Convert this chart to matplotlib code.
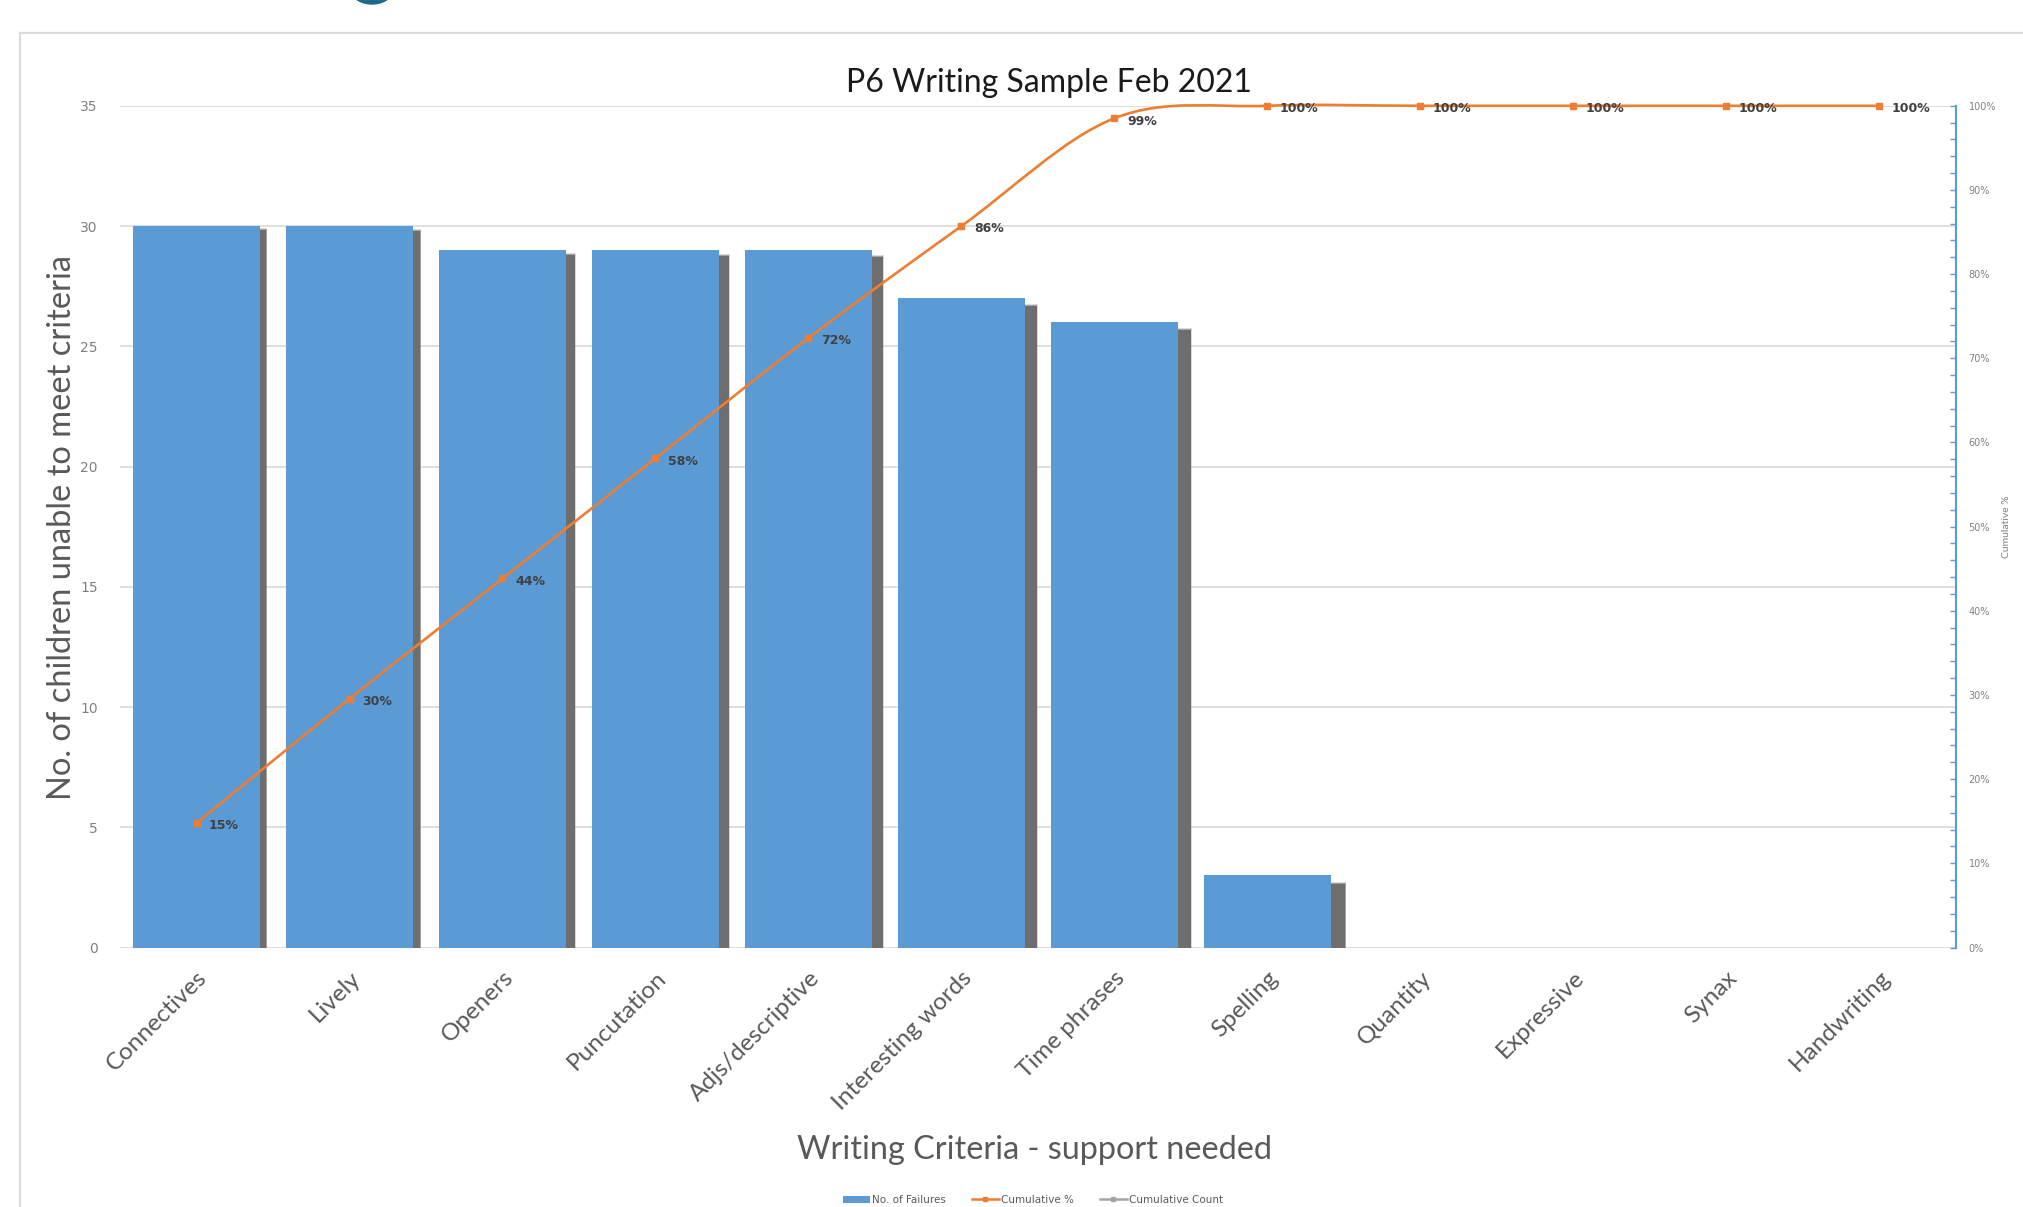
import numpy as np
import matplotlib
matplotlib.use("Agg")
import matplotlib.pyplot as plt
import matplotlib.transforms as mtransforms
from matplotlib.path import Path
from matplotlib.patches import PathPatch, Patch, Ellipse
from matplotlib.lines import Line2D
from matplotlib.ticker import MultipleLocator, FuncFormatter

# ---- data ----
categories = ["Connectives", "Lively", "Openers", "Puncutation", "Adjs/descriptive",
              "Interesting words", "Time phrases", "Spelling", "Quantity", "Expressive",
              "Synax", "Handwriting"]
failures = [30, 30, 29, 29, 29, 27, 26, 3, 0, 0, 0, 0]
count_ticks = [0, 5, 10, 15, 20, 25, 30, 35]
pct_ticks = [0.0, 0.1, 0.2, 0.3, 0.4, 0.5, 0.6, 0.7, 0.8, 0.9, 1.0]

title = "P6 Writing Sample Feb 2021"
x_title = "Writing Criteria - support needed"
y_title = "No. of children unable to meet criteria"
y2_title = "Cumulative %"
legend_labels = ["No. of Failures", "Cumulative %", "Cumulative Count"]

cumulative = np.cumsum(failures) / np.sum(failures)

BLUE = "#5b9bd5"
ORANGE = "#ed7d31"
GREY_TXT = "#595959"
GRID = "#d9d9d9"
TEXT_FONT = ["Lato", "DejaVu Sans"]

W, H = 2024, 1207
fig = plt.figure(figsize=(W / 100, H / 100), dpi=100)
fig.patch.set_facecolor("white")

# card frame and logo fragment at the top
fig.add_artist(Line2D([20 / W, 20 / W], [0, 1 - 33 / H], color="#dcdcdc", lw=1.6,
                      transform=fig.transFigure))
fig.add_artist(Line2D([20 / W, 1], [1 - 33 / H, 1 - 33 / H], color="#dcdcdc", lw=1.6,
                      transform=fig.transFigure))
fig.add_artist(Ellipse((372 / W, 1 + 9 / H), 40 / W, 26 / H, color="#1d6b88",
                       transform=fig.transFigure))

ax = fig.add_axes([120 / W, 1 - 947.5 / H, (1956 - 120) / W, (947.5 - 105.8) / H])
n = len(categories)
x = np.arange(n)
bar_w = 0.835

# soft drop shadows behind the bars
for i, v in enumerate(failures):
    if v <= 0:
        continue
    dx = 6 + 1.1 * i
    dy = 4 + 0.7 * i
    for grow, alpha in [(2.0, 0.25), (1.0, 0.5), (0.0, 1.0)]:
        tr = mtransforms.offset_copy(ax.transData, fig=fig, x=dx + grow * 0.5,
                                     y=-dy + grow, units="dots")
        ax.bar(i, v, width=bar_w, color="#6e6e6e", alpha=alpha, transform=tr,
               zorder=2, linewidth=0)

ax.bar(x, failures, width=bar_w, color=BLUE, zorder=3, linewidth=0)

ax.set_xlim(-0.5, n - 0.5)
ax.set_ylim(0, 35)
ax.set_yticks(count_ticks)
ax.yaxis.grid(True, color=GRID, lw=1.2, zorder=0)
ax.set_axisbelow(True)
for s in ax.spines.values():
    s.set_visible(False)
ax.tick_params(axis="y", length=0, pad=16, labelsize=10, labelcolor="#7f7f7f")
ax.set_xticks(x)
ax.set_xticklabels(categories, rotation=45, ha="right", rotation_mode="anchor",
                   fontsize=17.5, color=GREY_TXT, family=TEXT_FONT)
ax.tick_params(axis="x", length=0, pad=14)

# cumulative percentage on the secondary axis, drawn as a smoothed curve
ax2 = ax.twinx()
ax2.set_ylim(0, 1)
ax2.set_xlim(-0.5, n - 0.5)
pts = np.column_stack([x, cumulative])
verts = [tuple(pts[0])]
codes = [Path.MOVETO]
for i in range(n - 1):
    p0 = pts[i - 1] if i > 0 else pts[i]
    p1 = pts[i]
    p2 = pts[i + 1]
    p3 = pts[i + 2] if i + 2 < n else pts[i + 1]
    c1 = p1 + (p2 - p0) / 6.0
    c2 = p2 - (p3 - p1) / 6.0
    verts += [tuple(c1), tuple(c2), tuple(p2)]
    codes += [Path.CURVE4] * 3
ax2.add_patch(PathPatch(Path(verts, codes), facecolor="none", edgecolor=ORANGE,
                        lw=1.9, zorder=5, clip_on=False))
ax2.plot(x, cumulative, linestyle="none", marker="s", markersize=4.5, color=ORANGE,
         zorder=6, clip_on=False)
for xi, c in zip(x, cumulative):
    ax2.annotate(f"{round(c * 100):.0f}%", (xi, c), xytext=(9, -2),
                 textcoords="offset points", ha="left", va="center",
                 fontsize=9, fontweight="bold", color="#404040", zorder=7)

ax2.set_yticks(pct_ticks)
ax2.yaxis.set_minor_locator(MultipleLocator(0.02))
ax2.yaxis.set_major_formatter(FuncFormatter(lambda v, p: f"{v * 100:.0f}%"))
for name, s in ax2.spines.items():
    s.set_visible(name == "right")
ax2.spines["right"].set_color(BLUE)
ax2.spines["right"].set_linewidth(1.5)
ax2.tick_params(axis="y", which="both", direction="in", length=4, width=1,
                color=BLUE, labelsize=7, labelcolor="#808080", pad=9)

# titles
fig.text(1049 / W, 1 - 83 / H, title, ha="center", va="center", fontsize=23,
         color="#1a1a1a", family=TEXT_FONT)
fig.text(62 / W, 1 - 527 / H, y_title, ha="center", va="center", rotation=90,
         fontsize=23.5, color=GREY_TXT, family=TEXT_FONT)
fig.text(1035 / W, 1 - 1150 / H, x_title, ha="center", va="center", fontsize=23.3,
         color=GREY_TXT, family=TEXT_FONT)
fig.text(2007 / W, 1 - 527 / H, y2_title, ha="center", va="center", rotation=90,
         fontsize=7.5, color="#808080", family=TEXT_FONT)

handles = [
    Patch(facecolor=BLUE, edgecolor="none"),
    Line2D([], [], color=ORANGE, lw=1.8, marker="s", markersize=3),
    Line2D([], [], color="#a5a5a5", lw=1.8, marker="s", markersize=3),
]
fig.legend(handles, legend_labels, loc="center", bbox_to_anchor=(1033 / W, 1 - 1200 / H),
           ncol=3, frameon=False, fontsize=7.5, handlelength=2.6, columnspacing=2.5,
           handletextpad=0.2, labelcolor="#595959")

fig.savefig("out.png", dpi=100, facecolor="white")
